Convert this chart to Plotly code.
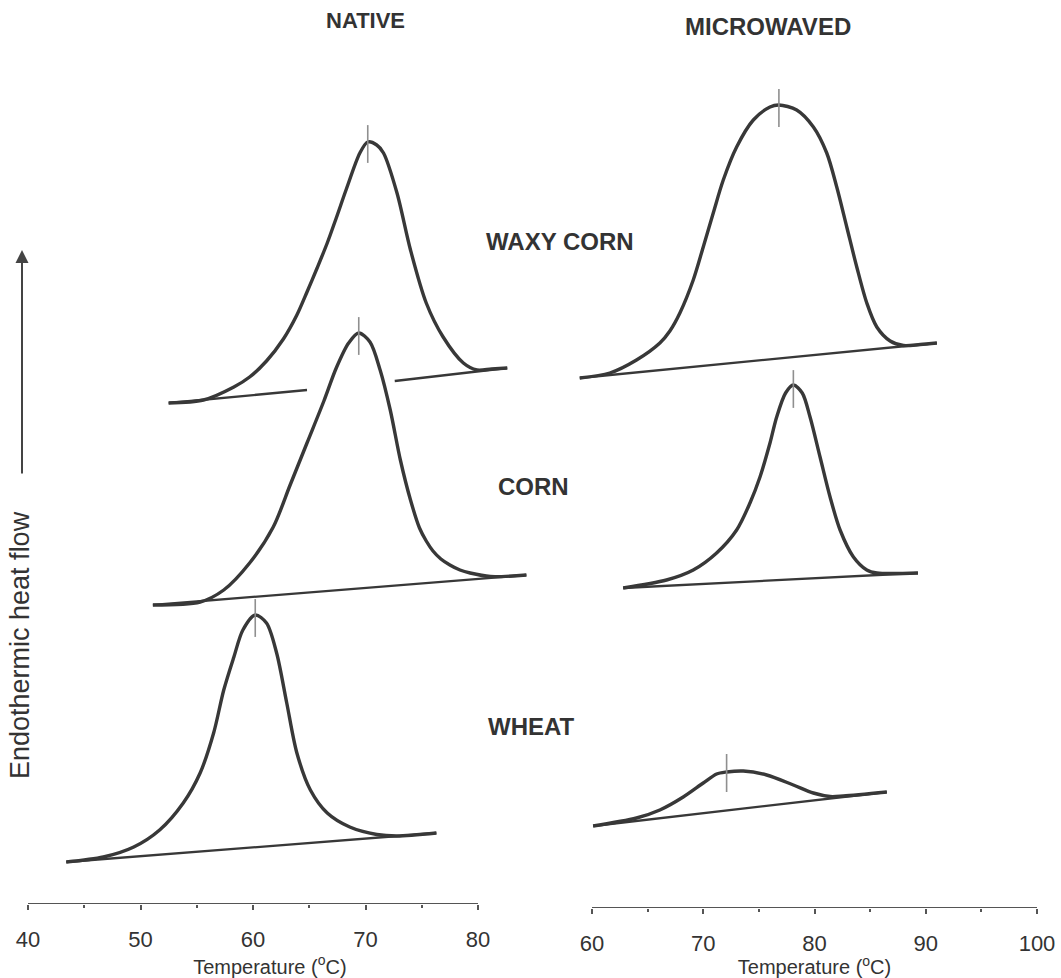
import plotly.graph_objects as go

# ---------------- data (temperature in °C, endothermic heat flow in arbitrary, offset units) ----------------
# NATIVE panel
nat_waxy_T = [52.5, 55.6, 58.3, 59.7, 61.2, 62.7, 63.9, 64.8, 65.7, 66.6, 67.4, 68.3, 69.5, 70.2, 71.0, 71.6,
              72.8, 74.0, 75.4, 76.9, 78.7, 79.9, 81.2, 82.6]
nat_waxy_H = [501, 504, 517, 527, 543, 565, 589, 612, 636, 661, 686, 715, 751, 762, 759, 751,
              711, 654, 601, 567, 541, 534, 535, 536]
nat_waxy_base_T = [52.5, 64.8, None, 72.6, 82.6]
nat_waxy_base_H = [501, 514, None, 523, 536]

nat_corn_T = [51.1, 55.3, 57.4, 59.7, 61.8, 63.3, 64.8, 66.3, 67.4, 68.5, 69.4, 70.4, 71.3, 72.2, 73.1,
              74.0, 74.8, 75.4, 76.0, 76.7, 77.5, 78.4, 79.3, 81.1, 84.3]
nat_corn_H = [299, 302, 314, 341, 377, 419, 461, 503, 536, 561, 571, 562, 534, 494, 444,
              404, 376, 363, 353, 345, 339, 334, 331, 327.5, 329]
nat_corn_base_T = [51.1, 84.3]
nat_corn_base_H = [299, 329]

nat_wheat_T = [43.4, 46.7, 49.4, 51.7, 53.8, 55.3, 56.5, 57.4, 58.3, 59.1, 60.2, 61.2, 62.1, 63.0, 63.9,
               65.1, 66.6, 68.6, 71.0, 72.8, 76.3]
nat_wheat_H = [42, 47, 57, 74, 101, 131, 171, 214, 247, 274, 289, 281, 251, 201, 151,
               114, 91, 77, 69.5, 68, 71]
nat_wheat_base_T = [43.4, 76.3]
nat_wheat_base_H = [42, 71]

nat_peak_T = [70.2, 69.4, 60.2]
nat_peak_H = [760, 568, 286]

# MICROWAVED panel
mw_waxy_T = [58.9, 61.6, 64.0, 66.1, 67.0, 67.9, 69.1, 70.0, 70.9, 71.8, 73.0, 74.5, 76.0, 76.8, 78.4, 79.9,
             81.1, 82.0, 82.9, 83.8, 84.7, 85.6, 86.8, 88.0, 89.5, 91.0]
mw_waxy_H = [530, 535, 548, 565, 577, 595, 628, 661, 695, 728, 761, 788, 801, 803, 798, 781,
             755, 721, 681, 641, 605, 581, 567, 562.5, 563.5, 565]
mw_waxy_base_T = [58.9, 91.0]
mw_waxy_base_H = [530, 565]

mw_corn_T = [62.8, 66.7, 69.1, 71.2, 73.0, 74.2, 75.1, 76.0, 76.6, 77.4, 78.1, 78.9, 79.6, 80.5, 81.4,
             82.3, 83.5, 84.7, 85.6, 89.3]
mw_corn_H = [320, 328, 338, 355, 378, 405, 431, 465, 491, 515, 523, 515, 491, 451, 411,
             378, 351, 338, 335, 335]
mw_corn_base_T = [62.8, 89.3]
mw_corn_base_H = [320, 335]

mw_wheat_T = [60.1, 64.0, 66.1, 68.2, 70.0, 71.2, 72.1, 73.6, 75.7, 78.1, 79.9, 81.4, 82.6, 86.5]
mw_wheat_H = [82, 90, 98, 111, 125, 134, 136, 137, 133, 123, 115, 111.5, 112, 116]
mw_wheat_base_T = [60.1, 86.5]
mw_wheat_base_H = [82, 116]

mw_peak_T = [76.8, 78.1, 72.1]
mw_peak_H = [800, 519, 135]

left_ticks = [40, 50, 60, 70, 80]
left_minor = [45, 55, 65, 75]
right_ticks = [60, 70, 80, 90, 100]
right_minor = [65, 75, 85, 95]

sample_labels = ["WAXY CORN", "CORN", "WHEAT"]
panel_titles = ["NATIVE", "MICROWAVED"]

# ---------------- figure ----------------
W, H = 1061, 978
INK = "#383838"
FONT = "Liberation Sans, Arial, sans-serif"

fig = go.Figure()

def curve(x, y, xa, ya, width=3.4):
    fig.add_trace(go.Scatter(x=x, y=y, xaxis=xa, yaxis=ya, mode="lines",
                             line=dict(color=INK, width=width, shape="spline", smoothing=0.85),
                             hoverinfo="skip", showlegend=False))

def base(x, y, xa, ya):
    fig.add_trace(go.Scatter(x=x, y=y, xaxis=xa, yaxis=ya, mode="lines",
                             line=dict(color=INK, width=2.3), connectgaps=False,
                             hoverinfo="skip", showlegend=False))

for bx, by in [(nat_waxy_base_T, nat_waxy_base_H), (nat_corn_base_T, nat_corn_base_H),
               (nat_wheat_base_T, nat_wheat_base_H)]:
    base(bx, by, "x", "y")
for cx, cy in [(nat_waxy_T, nat_waxy_H), (nat_corn_T, nat_corn_H), (nat_wheat_T, nat_wheat_H)]:
    curve(cx, cy, "x", "y")
for bx, by in [(mw_waxy_base_T, mw_waxy_base_H), (mw_corn_base_T, mw_corn_base_H),
               (mw_wheat_base_T, mw_wheat_base_H)]:
    base(bx, by, "x2", "y2")
for cx, cy in [(mw_waxy_T, mw_waxy_H), (mw_corn_T, mw_corn_H), (mw_wheat_T, mw_wheat_H)]:
    curve(cx, cy, "x2", "y2")

# peak markers
for pt, ph, xa, ya in [(nat_peak_T, nat_peak_H, "x", "y"), (mw_peak_T, mw_peak_H, "x2", "y2")]:
    fig.add_trace(go.Scatter(x=pt, y=ph, xaxis=xa, yaxis=ya, mode="markers",
                             marker=dict(symbol="line-ns", size=27, line=dict(color="#8f8f8f", width=1.6)),
                             hoverinfo="skip", showlegend=False))

axis_common = dict(showgrid=False, zeroline=False, showline=False, ticks="outside", ticklen=5,
                   tickwidth=1.5, tickcolor="#555", ticklabelstandoff=11,
                   tickfont=dict(family=FONT, size=22, color="#333"),
                   title=dict(text="Temperature (<sup>o</sup>C)", font=dict(family=FONT, size=20, color="#333"),
                              standoff=5))

fig.update_layout(
    width=W, height=H, margin=dict(l=0, r=0, t=0, b=0),
    paper_bgcolor="white", plot_bgcolor="rgba(0,0,0,0)", showlegend=False,
    xaxis=dict(domain=[5.5 / W, 534.25 / W], range=[38, 85], anchor="y",
               tickvals=left_ticks, minor=dict(tickvals=left_minor, ticks="outside", ticklen=3,
                                                tickcolor="#555"), **axis_common),
    yaxis=dict(domain=[74 / H, 1], range=[0, 904], visible=False, anchor="x"),
    xaxis2=dict(domain=[569.75 / W, 1059.25 / W], range=[58, 102], anchor="y2",
                tickvals=right_ticks, minor=dict(tickvals=right_minor, ticks="outside", ticklen=3,
                                                 tickcolor="#555"), **axis_common),
    yaxis2=dict(domain=[70 / H, 1], range=[0, 908], visible=False, anchor="x2"),
)

# axis lines spanning only the labelled temperature range
fig.add_shape(type="line", xref="x", yref="y", x0=left_ticks[0], x1=left_ticks[-1], y0=0, y1=0,
              line=dict(color="#555", width=2))
fig.add_shape(type="line", xref="x2", yref="y2", x0=right_ticks[0], x1=right_ticks[-1], y0=0, y1=0,
              line=dict(color="#555", width=2))

def label(text, px, py, size=24):
    fig.add_annotation(text=text, xref="paper", yref="paper", x=px / W, y=1 - py / H,
                       showarrow=False, xanchor="center", yanchor="middle",
                       font=dict(family=FONT, size=size, color="#333", weight="bold"))

label(panel_titles[0], 365, 21, 22)
label(panel_titles[1], 768, 27)
label(sample_labels[0], 560, 242)
label(sample_labels[1], 533, 487)
label(sample_labels[2], 531, 726)

# y-axis label and arrow
fig.add_annotation(text="Endothermic heat flow", xref="paper", yref="paper", x=20 / W, y=1 - 645 / H,
                   showarrow=False, textangle=-90, xanchor="center", yanchor="middle",
                   font=dict(family=FONT, size=27, color="#333"))
fig.add_annotation(x=22 / W, y=1 - 250 / H, xref="paper", yref="paper",
                   axref="pixel", ayref="pixel", ax=0, ay=225, text="", showarrow=True, arrowhead=2,
                   arrowsize=1.3, arrowwidth=2, arrowcolor="#444")

fig.write_html("out.html")
